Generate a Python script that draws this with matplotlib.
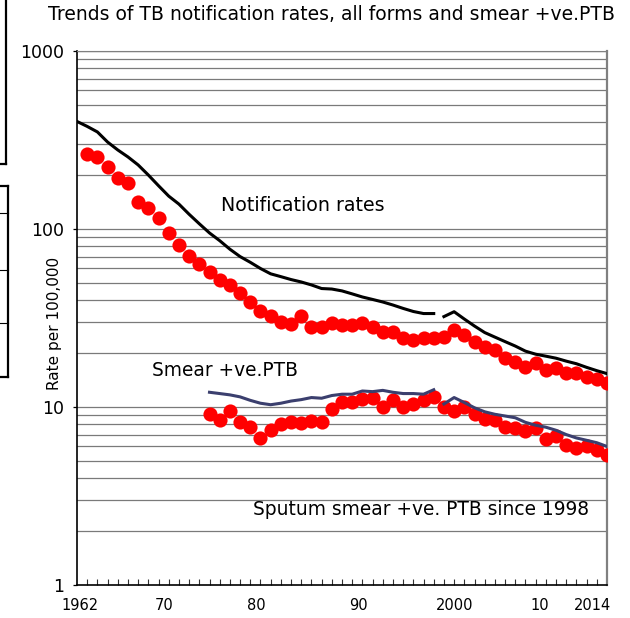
import matplotlib
matplotlib.use("Agg")
import matplotlib.pyplot as plt
from matplotlib.lines import Line2D

# notification rates, all forms (old series to 1997, new series from 1998)
notif_years_old = list(range(1962, 1998))
notif_old = [402, 377, 351, 308, 278, 254, 229, 201, 175, 153, 138, 121, 107, 95, 86, 77,
             70, 65, 60, 56, 54, 52, 50.4, 48.5, 46.3, 46, 44.9, 43.2, 41.5, 40.2, 38.9,
             37.4, 35.8, 34.4, 33.5, 33.5]
notif_years_new = list(range(1998, 2015))
notif_new = [32.2, 34.3, 31.2, 28.5, 26.2, 24.7, 23.3, 22.0, 20.6, 19.8, 19.3, 18.8, 18.1,
             17.5, 16.7, 16.0, 15.4]

# red dots, notification
dot_years = list(range(1963, 2015))
dot_notif = [264, 255, 224, 193, 181, 142, 131, 115, 94.6, 81.3, 70.5, 63.5, 57.5, 51.7,
             48.5, 43.8, 39.0, 34.8, 32.4, 30.1, 29.3, 32.3, 28.3, 28.3, 29.7, 28.9, 28.9,
             29.5, 28.3, 26.5, 26.5, 24.3, 23.8, 24.3, 24.3, 24.8, 27.1, 25.4, 23.3, 21.8,
             20.9, 18.8, 18.0, 16.8, 17.6, 16.1, 16.5, 15.5, 15.5, 14.8, 14.3, 13.6]

# smear +ve PTB lines
smear_years_old = list(range(1975, 1998))
smear_old = [12.1, 11.9, 11.7, 11.4, 10.9, 10.5, 10.3, 10.5, 10.8, 11.0, 11.3, 11.2, 11.6,
             11.8, 11.8, 12.3, 12.2, 12.4, 12.1, 11.9, 11.9, 11.8, 12.5]
smear_years_new = list(range(1998, 2015))
smear_new = [10.4, 11.3, 10.6, 9.9, 9.4, 9.1, 8.9, 8.7, 8.2, 7.9, 7.7, 7.4, 7.0, 6.7, 6.5,
             6.3, 6.0]

# red dots, smear
sdot_years = list(range(1975, 2015))
sdot = [9.1, 8.5, 9.5, 8.2, 7.7, 6.7, 7.4, 8.0, 8.2, 8.1, 8.3, 8.2, 9.7, 10.6, 10.6, 11.1,
        11.2, 10.0, 11.0, 10.0, 10.4, 10.9, 11.4, 10.0, 9.5, 10.0, 9.1, 8.6, 8.5, 7.7, 7.6,
        7.3, 7.6, 6.6, 6.9, 6.1, 5.9, 6.0, 5.7, 5.4]

x_tick_labels = ["1962", "70", "80", "90", "2000", "10", "2014"]
x_tick_pos = [1962.3, 1970.5, 1979.6, 1989.6, 1999.05, 2007.4, 2012.6]

W, H = 630, 618
fig = plt.figure(figsize=(6.3, 6.18), dpi=100)
ax = fig.add_axes([77 / W, 1 - 585 / H, 530 / W, 534 / H])

ax.set_yscale("log")
ax.set_ylim(1, 1000)
ax.set_xlim(1962, 2014)

# horizontal grid at every log step
for dec in [1, 10, 100]:
    for m in range(1, 10):
        v = dec * m
        if v == 1:
            continue
        ax.axhline(v, color="#7a7a7a", lw=0.9, zorder=1)
ax.axhline(1000, color="#7a7a7a", lw=1.0, zorder=1)

red = "#ff0000"
navy = "#3b3f6e"
ax.plot(dot_years, dot_notif, "o", color=red, ms=10.2, mew=0, zorder=3)
ax.plot(sdot_years, sdot, "o", color=red, ms=10.2, mew=0, zorder=3)
ax.plot(notif_years_old, notif_old, color="black", lw=2.2, zorder=4)
ax.plot(notif_years_new, notif_new, color="black", lw=2.2, zorder=4)
ax.plot(smear_years_old, smear_old, color=navy, lw=2.2, zorder=4)
ax.plot(smear_years_new, smear_new, color=navy, lw=2.2, zorder=4)

ax.text(1976.1, 136, "Notification rates", fontsize=13.7, ha="left", va="center")
ax.text(1969.4, 16.1, "Smear +ve.PTB", fontsize=13.4, ha="left", va="center")
ax.text(1979.3, 2.64, "Sputum smear +ve. PTB since 1998", fontsize=13.4, ha="left", va="center")

ax.set_xticks(x_tick_pos)
ax.set_xticklabels(x_tick_labels, fontsize=10.5)
ax.tick_params(axis="x", which="major", length=0, pad=9)
ax.set_xticks(range(1963, 2014), minor=True)
ax.tick_params(axis="x", which="minor", direction="in", length=4, width=0.8, color="#333333")

ax.set_yticks([1, 10, 100, 1000])
ax.set_yticklabels(["1", "10", "100", "1000"], fontsize=12.5)
ax.yaxis.set_minor_locator(matplotlib.ticker.NullLocator())
ax.tick_params(axis="y", which="major", length=3, width=0.9, pad=6)

for s in ["top", "right"]:
    ax.spines[s].set_color("#808080")
ax.spines["right"].set_linewidth(1.6)
ax.spines["left"].set_linewidth(1.2)
ax.spines["bottom"].set_linewidth(1.2)

fig.text(332 / W, 1 - 15 / H, "Trends of TB notification rates, all forms and smear +ve.PTB",
         ha="center", va="center", fontsize=13.5)
fig.text(55 / W, 1 - 323 / H, "Rate per 100,000", rotation=90, ha="center", va="center",
         fontsize=11)

# cropped boxes at left edge of the original slide
def fline(x0, y0, x1, y1, lw=1.6):
    fig.add_artist(Line2D([x0 / W, x1 / W], [1 - y0 / H, 1 - y1 / H], color="black", lw=lw))

fline(6, 0, 6, 164)
fline(0, 164, 6, 164)
fline(0, 186, 8, 186)
fline(8, 186, 8, 377)
fline(0, 377, 8, 377)
for yy in [213, 270, 323]:
    fline(0, yy, 8, yy, lw=0.8)

fig.savefig("out.png", dpi=100)
